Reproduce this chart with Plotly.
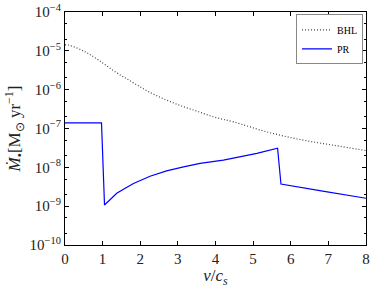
import plotly.graph_objects as go

# velocity in units of sound speed
bhl_v = [0, 0.09, 0.53, 0.89, 1.33, 1.77, 2.22, 2.66, 3.10, 3.55, 3.99, 4.48, 5.36, 6.25, 7.14, 8.0]
bhl_mdot = [1.42e-5, 1.41e-5, 9.5e-6, 5.8e-6, 2.9e-6, 1.6e-6, 8.9e-7, 5.6e-7, 3.8e-7, 2.7e-7,
            1.94e-7, 1.48e-7, 8.2e-8, 5.2e-8, 3.7e-8, 2.7e-8]

pr_v = [0, 0.97, 1.05, 1.2, 1.375, 1.6, 1.82, 2.26, 2.70, 3.15, 3.59, 4.21, 4.65, 5.10, 5.65,
        5.74, 6.85, 8.0]
pr_mdot = [1.4e-7, 1.4e-7, 1.07e-9, 1.5e-9, 2.14e-9, 2.9e-9, 3.85e-9, 5.9e-9, 8.1e-9, 1.03e-8,
           1.26e-8, 1.54e-8, 1.85e-8, 2.3e-8, 3.1e-8, 3.7e-9, 2.45e-9, 1.6e-9]

yticks = [1e-10, 1e-9, 1e-8, 1e-7, 1e-6, 1e-5, 1e-4]
ytext = ["10<sup>\u221210</sup>", "10<sup>\u22129</sup>", "10<sup>\u22128</sup>", "10<sup>\u22127</sup>",
         "10<sup>\u22126</sup>", "10<sup>\u22125</sup>", "10<sup>\u22124</sup>"]

serif = "Liberation Serif"

fig = go.Figure()
fig.add_trace(go.Scatter(x=bhl_v, y=bhl_mdot, mode="lines", name="BHL", line_shape="spline",
                         line=dict(color="#444444", width=1.2, dash="1px,2px")))
fig.add_trace(go.Scatter(x=pr_v, y=pr_mdot, mode="lines", name="PR",
                         line=dict(color="#0000ff", width=1.2)))

axis_common = dict(showline=True, linecolor="black", linewidth=1, mirror="allticks",
                   ticks="inside", tickcolor="black", showgrid=False, zeroline=False,
                   tickfont=dict(family=serif, size=15, color="#222"))

fig.update_xaxes(range=[0, 8.0001], tickvals=list(range(9)), ticklen=4,
                 title=dict(text="<i>v</i>/<i>c<sub>s</sub></i>", font=dict(family=serif, size=17, color="#222"),
                            standoff=0),
                 **axis_common)
fig.update_yaxes(type="log", range=[-10, -4], tickvals=yticks, ticktext=ytext, ticklen=4,
                 minor=dict(ticks="inside", ticklen=2, tickcolor="black", showgrid=False),
                 title=dict(text="<i>M\u0307</i><sub>\u2022</sub>[M<sub>\u2299</sub> yr<sup>\u22121</sup>]",
                            font=dict(family=serif, size=17, color="#222"), standoff=4),
                 **axis_common)

fig.update_layout(
    width=374, height=288,
    margin=dict(l=65, r=8, t=12, b=43, autoexpand=False),
    plot_bgcolor="white", paper_bgcolor="white",
    legend=dict(x=0.99, y=0.99, xanchor="right", yanchor="top",
                bordercolor="#888", borderwidth=1, bgcolor="white",
                font=dict(family=serif, size=10, color="black"),
                itemwidth=30, tracegroupgap=0),
)

# the page's default body margin would push the figure 8px off
fig.write_html("out.html", config={"displayModeBar": False},
               post_script="document.body.style.margin = '0';")
